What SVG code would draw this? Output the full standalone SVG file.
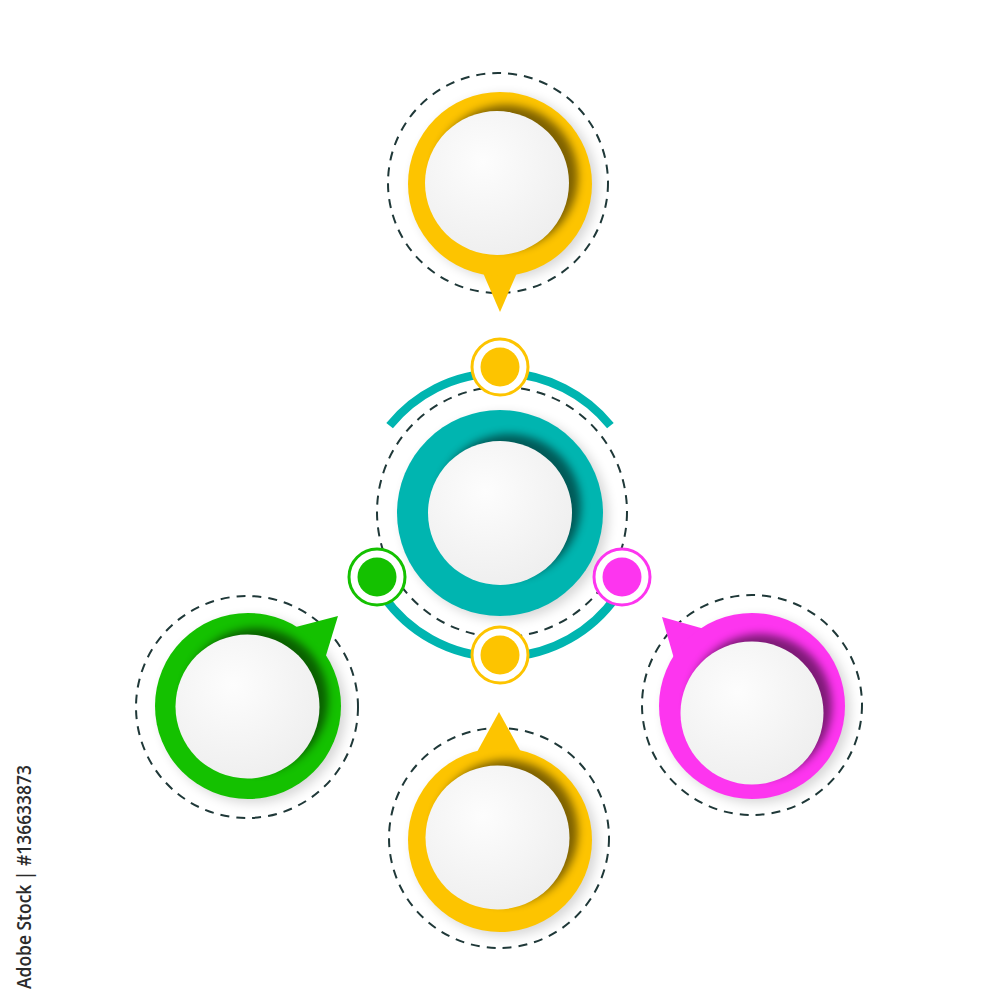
<svg xmlns="http://www.w3.org/2000/svg" width="1000" height="1000" viewBox="0 0 1000 1000">
<style>
.dash{fill:none;stroke:#1f3838;stroke-width:2;stroke-dasharray:9 7}
.disc{fill:url(#discG)}
.shade{fill:#000;opacity:0.5;filter:url(#blur4)}
.drop{fill:#000;opacity:0.16;filter:url(#blur6)}
.yel{fill:#fdc400}
.teal{fill:#00b5b0}
.grn{fill:#14c100}
.mag{fill:#fd35ef}
.arc{fill:none;stroke:#00b5b0;stroke-width:8.5}
.wm{font-family:"Open Sans","Noto Sans",sans-serif;font-size:19px;font-weight:600;fill:#2b2b2b}
</style>
<defs>
<radialGradient id="discG" cx="0.4" cy="0.35" r="0.75">
<stop offset="0" stop-color="#fdfdfd"/>
<stop offset="1" stop-color="#ededed"/>
</radialGradient>
<filter id="blur4" x="-30%" y="-30%" width="160%" height="160%"><feGaussianBlur stdDeviation="4"/></filter>
<filter id="blur6" x="-30%" y="-30%" width="160%" height="160%"><feGaussianBlur stdDeviation="6"/></filter>
<clipPath id="cTop"><circle cx="500" cy="184" r="92"/></clipPath>
<clipPath id="cCen"><circle cx="500" cy="513" r="103"/></clipPath>
<clipPath id="cLeft"><circle cx="248" cy="706" r="93"/></clipPath>
<clipPath id="cRight"><circle cx="752" cy="706" r="93"/></clipPath>
<clipPath id="cBot"><circle cx="500" cy="840" r="92"/></clipPath>
</defs>
<rect width="1000" height="1000" fill="#fff"/>

<g id="connectors">
<path class="arc" d="M389.6,425.6 A142,142 0 0 1 610.4,425.6"/>
<path class="arc" d="M383.7,596.5 A142,142 0 0 0 616.3,596.5"/>
</g>

<g id="node-top">
<circle class="dash" cx="498" cy="183" r="110"/>
<circle class="drop" cx="505" cy="187" r="92"/>
<polygon class="yel" points="480,266 520,266 500,312"/>
<circle class="yel" cx="500" cy="184" r="92"/>
<circle class="shade" cx="506" cy="177" r="72" clip-path="url(#cTop)"/>
<circle class="disc" cx="497" cy="183" r="72"/>
</g>

<g id="node-center">
<circle class="dash" cx="502" cy="512" r="125"/>
<circle class="drop" cx="505" cy="517" r="103"/>
<circle class="teal" cx="500" cy="513" r="103"/>
<circle class="shade" cx="509" cy="506" r="72" clip-path="url(#cCen)"/>
<circle class="disc" cx="500" cy="513" r="72"/>
</g>

<g id="node-left">
<circle class="dash" cx="247" cy="707" r="111"/>
<circle class="drop" cx="253" cy="710" r="93"/>
<polygon class="grn" points="292,628 324,662 338,616"/>
<circle class="grn" cx="248" cy="706" r="93"/>
<circle class="shade" cx="256" cy="700" r="72" clip-path="url(#cLeft)"/>
<circle class="disc" cx="247.5" cy="706.5" r="72"/>
</g>

<g id="node-right">
<circle class="dash" cx="752" cy="705" r="110"/>
<circle class="drop" cx="757" cy="710" r="93"/>
<polygon class="mag" points="708,630 675,662 662,617"/>
<circle class="mag" cx="752" cy="706" r="93"/>
<circle class="shade" cx="760" cy="706" r="72" clip-path="url(#cRight)"/>
<circle class="disc" cx="752" cy="713" r="71.5"/>
</g>

<g id="node-bottom">
<circle class="dash" cx="499" cy="838" r="110"/>
<circle class="drop" cx="505" cy="844" r="92"/>
<polygon class="yel" points="477,752 521,752 499,712"/>
<circle class="yel" cx="500" cy="840" r="92"/>
<circle class="shade" cx="506" cy="832" r="72" clip-path="url(#cBot)"/>
<circle class="disc" cx="497.5" cy="837.5" r="72"/>
</g>

<g id="dot-top">
<circle cx="500" cy="367" r="28" fill="#fff" stroke="#fdc400" stroke-width="3"/>
<circle class="yel" cx="500" cy="367" r="19.5"/>
</g>
<g id="dot-bottom">
<circle cx="500" cy="655" r="28" fill="#fff" stroke="#fdc400" stroke-width="3"/>
<circle class="yel" cx="500" cy="655" r="19.5"/>
</g>
<g id="dot-left">
<circle cx="377" cy="577" r="28" fill="#fff" stroke="#14c100" stroke-width="3"/>
<circle class="grn" cx="377" cy="577" r="19.5"/>
</g>
<g id="dot-right">
<circle cx="622" cy="577" r="28" fill="#fff" stroke="#fd35ef" stroke-width="3"/>
<circle class="mag" cx="622" cy="577" r="19.5"/>
</g>

<text class="wm" transform="translate(31,989) rotate(-90)" textLength="224" lengthAdjust="spacingAndGlyphs">Adobe Stock | #136633873</text>
</svg>
